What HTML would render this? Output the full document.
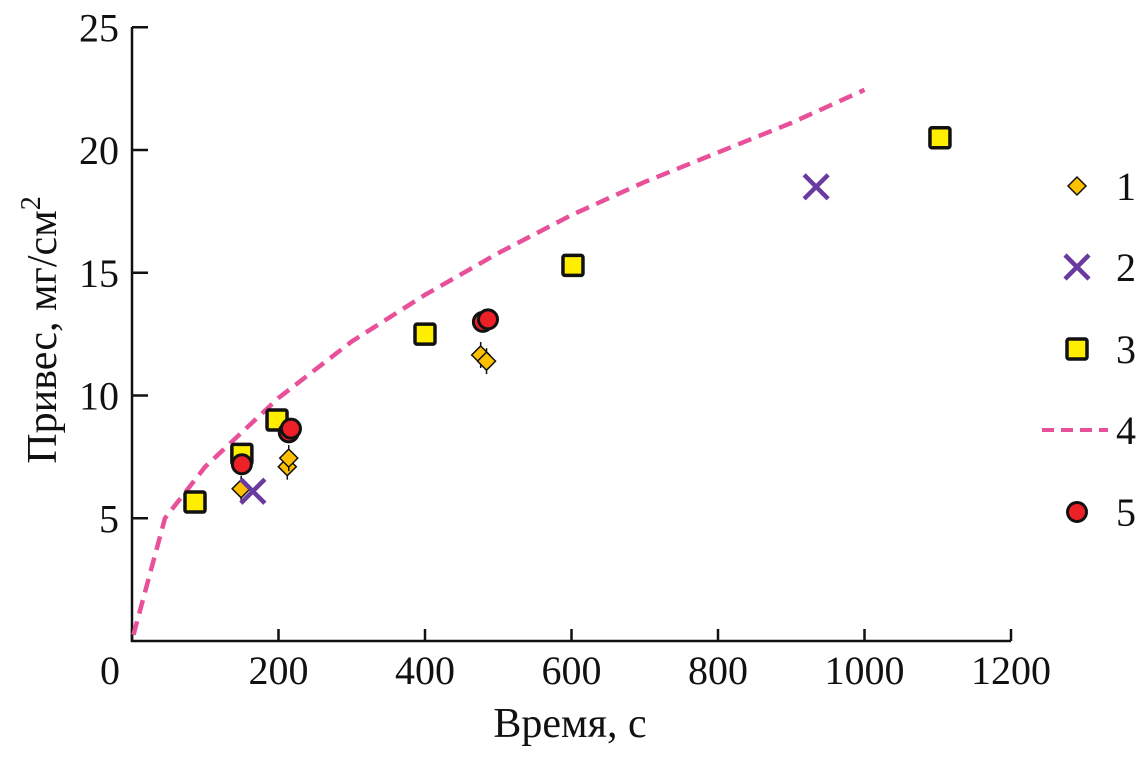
<!DOCTYPE html>
<html><head><meta charset="utf-8"><style>
body{margin:0;background:#fff}
svg text{font-family:"Liberation Serif",serif;fill:#111}
</style></head><body>
<svg id="c" width="1145" height="752"></svg>
<script>
const sqX=[86,150,198,400,602,1103], sqY=[5.66,7.6,9.0,12.5,15.3,20.5];
const ciX=[150,214,217,479,486], ciY=[7.2,8.5,8.65,13.0,13.1];
const diX=[149,212,214,476,484], diY=[6.2,7.1,7.45,11.65,11.4];
const crX=[165,934], crY=[6.1,18.5];
const lnX=[2,45,100,200,300,400,500,600,700,800,900,1000];
const lnY=[0.25,5,7.1,9.9,12.2,14.1,15.8,17.35,18.7,19.9,21.1,22.45];
const xTicks=[0,200,400,600,800,1000,1200];
const yTicks=[5,10,15,20,25];
const legendLabels=["1","2","3","4","5"];

const svg=document.getElementById('c');const NS='http://www.w3.org/2000/svg';
const X=v=>132+v*0.7325, Y=v=>641-v*24.55;
function mk(t,a,txt){const e=document.createElementNS(NS,t);for(const k in a)e.setAttribute(k,a[k]);if(txt!==undefined)e.textContent=txt;svg.appendChild(e);return e;}
let e;
e=mk('path',{d:`M132,27V641H1011`,fill:'none',stroke:'#111','stroke-width':2.5});


xTicks.forEach(v=>{
 e=mk('line',{x1:X(v),x2:X(v),y1:641,y2:629,stroke:'#111','stroke-width':2.5});
 
 
 e=mk('text',{x:v===0?110:X(v),y:684,'font-size':40,'text-anchor':'middle'},String(v));
 
 
});
yTicks.forEach(v=>{
 e=mk('line',{x1:132,x2:148,y1:Y(v),y2:Y(v),stroke:'#111','stroke-width':2.5});
 
 
 e=mk('text',{x:119,y:Y(v)+14,'font-size':40,'text-anchor':'end'},String(v));
 
 
});
e=mk('text',{x:570,y:737,'font-size':42,'text-anchor':'middle'},'Время, с');


e=mk('text',{x:0,y:0,'font-size':42,'text-anchor':'middle',transform:'translate(56,330) rotate(-90)'});
e.innerHTML='Привес, мг/см<tspan font-size="28" dy="-16">2</tspan>';


e=mk('polyline',{points:lnX.map((v,i)=>X(v)+','+Y(lnY[i])).join(' '),fill:'none',stroke:'#e8519a','stroke-width':4.5,'stroke-dasharray':'14,8'});


function square(x,y){return mk('rect',{x:x-10,y:y-10,width:20,height:20,fill:'#ffee00',stroke:'#111','stroke-width':3.5,rx:2});}
function circle(x,y){return mk('circle',{cx:x,cy:y,r:9.5,fill:'#ee2027',stroke:'#111','stroke-width':3});}
function diamond(x,y){return mk('path',{d:`M${x},${y-9}L${x+9},${y}L${x},${y+9}L${x-9},${y}Z`,fill:'#ffc000',stroke:'#111','stroke-width':1.5});}
function cross(x,y){return mk('path',{d:`M${x-12},${y-12}L${x+12},${y+12}M${x+12},${y-12}L${x-12},${y+12}`,stroke:'#6a3aa0','stroke-width':4.5});}
sqX.forEach((v,i)=>{e=square(X(v),Y(sqY[i]));});
ciX.forEach((v,i)=>{e=circle(X(v),Y(ciY[i]));});
diX.forEach((v,i)=>{
 e=mk('line',{x1:X(v),x2:X(v),y1:Y(diY[i])-13,y2:Y(diY[i])+13,stroke:'#111','stroke-width':1.5});
 
 
 e=diamond(X(v),Y(diY[i]));});
crX.forEach((v,i)=>{e=cross(X(v),Y(crY[i]));});
const ly=[186,267,349,430,512];
e=diamond(1077,ly[0]);
e=cross(1077,ly[1]);
e=square(1077,ly[2]);
e=mk('line',{x1:1042,x2:1108,y1:ly[3],y2:ly[3],stroke:'#e8519a','stroke-width':4,'stroke-dasharray':'12,7'});
e=circle(1077,ly[4]);
legendLabels.forEach((t,i)=>{e=mk('text',{x:1116,y:ly[i]+14,'font-size':40},t);});
</script>
</body></html>
